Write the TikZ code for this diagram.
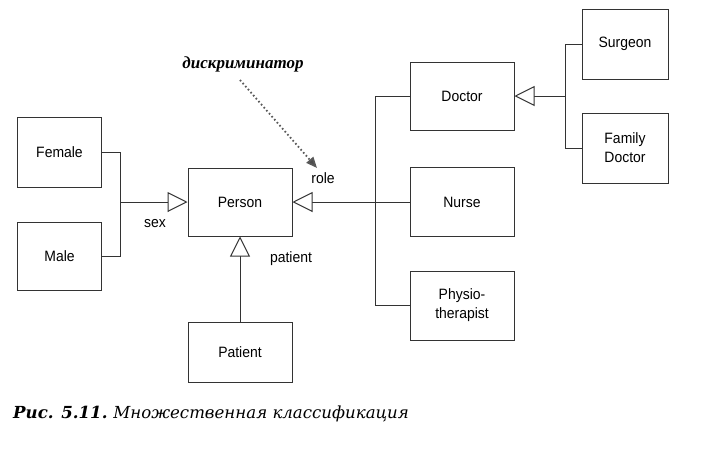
\documentclass[tikz,border=0pt]{standalone}
\usepackage{fontspec}
\setmainfont{Liberation Sans}[FakeStretch=0.93]
\newfontfamily\discfont{Liberation Serif}
\newfontfamily\capfont{DejaVu Serif}
\usetikzlibrary{arrows.meta}

\begin{document}
\begin{tikzpicture}[x=1pt,y=-1pt,
	klass/.style = {draw=black!80,line width=1pt,fill=white,align=center,
		minimum width=104pt,minimum height=68pt,inner sep=2pt,
		font=\fontsize{15}{19}\selectfont},
	gen/.style = {draw=black!80,line width=1pt,
		-{Triangle[open,length=20pt,width=20pt,fill=white]}},
	link/.style = {draw=black!80,line width=1pt},
	lbl/.style = {font=\fontsize{15}{19}\selectfont}]
	\useasboundingbox (0,0) rectangle (717,448);

	\node[klass,minimum width=84pt,minimum height=70pt] (Female) at (59.5,152) {Female};
	\node[klass,minimum width=84pt,minimum height=68pt] (Male) at (59.5,256) {Male};
	\node[klass] (Person) at (240,202) {Person};
	\node[klass,minimum height=60pt] (Patient) at (240,352) {Patient};
	\node[klass] (Doctor) at (462,96) {Doctor};
	\node[klass,minimum height=69pt] (Nurse) at (462,202) {Nurse};
	\node[klass,minimum height=69pt] (Physio) at (462,305.5) {Physio-\\therapist};
	\node[klass,minimum width=86pt,minimum height=70pt] (Surgeon) at (625,44) {Surgeon};
	\node[klass,minimum width=86pt,minimum height=70pt] (FamDoc) at (625,148) {Family\\Doctor};

	\coordinate (sexj) at (120.5,202);
	\coordinate (rolej) at (375.5,202);
	\coordinate (docj) at (565.5,96);

	\draw[link] (Female.east) -| (sexj) |- (Male.east);
	\draw[gen] (sexj) -- (Person.west);
	\draw[link] (Doctor.west) -| (rolej) |- (Physio.west);
	\draw[link] (Nurse.west) -- (rolej);
	\draw[gen] (rolej) -- (Person.east);
	\draw[link] (Surgeon.west) -| (docj) |- (FamDoc.west);
	\draw[gen] (docj) -- (Doctor.east);
	\draw[gen] (Patient.north) -- (Person.south);

	\node[lbl] (sex) at (155,224) {sex};
	\node[lbl] (role) at (323,178) {role};
	\node[lbl] (patient) at (291,259) {patient};

	% discriminator note
	\node[font=\discfont\bfseries\itshape\fontsize{17}{19}\selectfont] (disc) at (243,64) {дискриминатор};
	\coordinate (discfrom) at (240,80);
	\coordinate (disctip) at (317,168);
	\draw[black!65,line width=1.8pt,dash pattern=on 1.6pt off 2.4pt,
		-{Triangle[length=11pt,width=9pt,fill=black!70]}] (discfrom) -- (disctip);

	\node[anchor=base west,inner sep=0pt,font=\capfont\itshape\fontsize{16.6}{19}\selectfont] (caption) at (13,418)
		{\bfseries Рис. 5.11.\ \mdseries Множественная классификация};
\end{tikzpicture}
\end{document}
